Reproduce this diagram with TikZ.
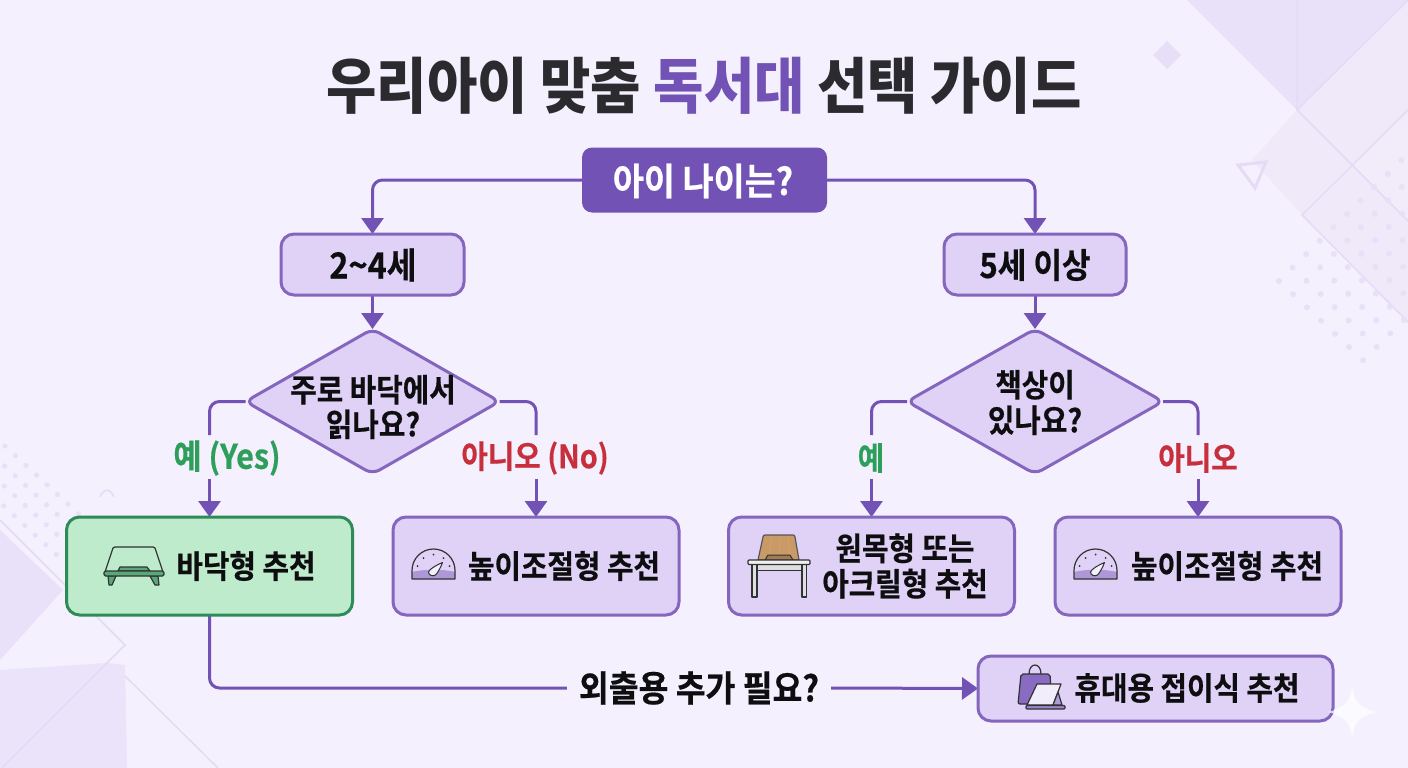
\documentclass[tikz,border=0pt]{standalone}
\usepackage{fontspec}
\setmainfont{Noto Sans CJK KR}[BoldFont={Noto Sans CJK KR Bold},BoldFeatures={FakeStretch=0.9,FakeBold=0.5}]
\newfontfamily\heavy{Noto Sans CJK KR Black}[FakeStretch=0.9]
\usetikzlibrary{arrows.meta,shapes.geometric,calc}
\definecolor{bgc}{HTML}{F4F0FD}
\definecolor{artA}{HTML}{E9E1F9}
\definecolor{artB}{HTML}{F0E9F9}
\definecolor{artL}{HTML}{E4DBF6}
\definecolor{dotc}{HTML}{E8E0F8}
\definecolor{purp}{HTML}{7352B6}
\definecolor{edgec}{HTML}{8466BE}
\definecolor{boxf}{HTML}{DFD2F6}
\definecolor{grnf}{HTML}{BEEBCB}
\definecolor{grne}{HTML}{2E8B57}
\definecolor{grnt}{HTML}{2E9E5B}
\definecolor{redt}{HTML}{C62F3B}
\definecolor{inkc}{HTML}{0E0E10}
\definecolor{titlec}{HTML}{2B2B2F}
\definecolor{wood}{HTML}{C99A66}
\pgfdeclarelayer{back}
\pgfdeclarelayer{conn}
\pgfsetlayers{back,conn,main}
\tikzset{
  box/.style={draw=edgec,fill=boxf,line width=3pt,rounded corners=13pt,inner sep=0pt,outer sep=0pt},
  greenbox/.style={box,draw=grne,fill=grnf},
  rootbox/.style={fill=purp,rounded corners=10pt,inner sep=0pt,outer sep=0pt},
  decision/.style={shape=diamond,draw=edgec,fill=boxf,line width=3pt,rounded corners=8pt,inner sep=0pt,outer sep=0pt,aspect=1.78},
  txt/.style={font=\bfseries\fontsize{32}{34.5}\selectfont,text=inkc,align=center,inner sep=0pt},
  lbl/.style={font=\bfseries\fontsize{32}{34}\selectfont,inner sep=0pt},
  flow/.style={draw=purp,line width=3pt,rounded corners=10pt},
  arr/.style={flow,-{Triangle[length=16pt,width=22pt]}},
  art/.style={draw=artL,line width=1.5pt},
  ico/.style={draw=inkc!85,line width=1.2pt,line join=round},
}
\begin{document}
\begin{tikzpicture}[x=1pt,y=-1pt]
\useasboundingbox (0,0) rectangle (1408,768);
\begin{pgfonlayer}{back}
\fill[bgc] (0,0) rectangle (1408,768);
\begin{scope}
\clip (0,0) rectangle (1408,768);
% top right art
\fill[artA] (1187,0) -- (1297,110) -- (1408,0) -- cycle;
\fill[artB] (1297,110) -- (1352,165) -- (1302,215) -- (1252,160) -- cycle;
\fill[artB] (1297,110) -- (1408,0) -- (1408,110) -- (1352,165) -- cycle;
\fill[artB] (1352,165) -- (1408,221) -- (1408,322) -- (1302,215) -- cycle;
\fill[artB!70!bgc] (1352,165) -- (1408,110) -- (1408,221) -- cycle;
\draw[art] (1297,0) -- (1297,110) -- (1408,221);
\draw[art] (1297,110) -- (1408,0);
\draw[art] (1408,110) -- (1302,215) -- (1408,322);
\draw[draw=artL,line width=3pt] (1238,165) -- (1266,162) -- (1255,188) -- cycle;
\fill[artL!85!bgc] (1167,41) -- (1181,55) -- (1167,69) -- (1153,55) -- cycle;
\foreach \i in {0,...,9}{\foreach \j in {0,...,6}{
  \pgfmathsetmacro{\px}{1279+13.6*\i+14*\j}
  \pgfmathsetmacro{\py}{281-13.4*\i+13.2*\j}
  \pgfmathtruncatemacro{\ok}{(\i+\j<10)?1:0}
  \ifnum\ok=1 \fill[dotc] (\px,\py) circle (3); \fi
}}
% bottom left art
\fill[artA] (0,530) -- (63,590) -- (0,660) -- cycle;
\fill[artA!85!bgc] (0,670) -- (107,663) -- (125,665) -- (127,768) -- (0,768) -- cycle;
\draw[art] (0,520) -- (125,645) -- (2,768);
\draw[art] (125,676) -- (218,768);
\draw[art] (100,497) .. controls (104,488) and (110,488) .. (114,497);
\foreach \i in {0,...,7}{\foreach \j in {0,...,3}{
  \pgfmathsetmacro{\px}{5+10.5*\i-0.4*\j}
  \pgfmathsetmacro{\py}{446+9.7*\i+20*\j}
  \pgfmathtruncatemacro{\ok}{(\i<8-\j||\j==3)&&(\i<6||\j==0)?1:0}
  \ifnum\ok=1 \fill[dotc] (\px,\py) circle (2.6); \fi
}}
\end{scope}
\end{pgfonlayer}

% title
\node[font=\heavy\fontsize{60.8}{66}\selectfont,text=titlec,inner sep=0pt] (title) at (704,86) {우리아이 맞춤 \textcolor{purp}{독서대} 선택 가이드};

% nodes
\node[rootbox,minimum width=245pt,minimum height=65pt] (root) at (704.5,180) {};
\node[txt,font=\bfseries\fontsize{37.5}{40}\selectfont,text=white] (roott) at (703,181) {아이 나이는?};
\node[box,minimum width=183pt,minimum height=61pt] (a1) at (372.5,264.5) {};
\node[txt,font=\bfseries\fontsize{36}{40}\selectfont] (a1t) at (373,265) {2\char"7E 4세};
\node[box,minimum width=182pt,minimum height=61pt] (a2) at (1035,264.5) {};
\node[txt,font=\bfseries\fontsize{34.5}{40}\selectfont] (a2t) at (1035,265) {5세 이상};
\node[decision,minimum width=254pt,minimum height=145pt] (d1) at (372.5,401.5) {};
\node[txt] (d1t) at (373,407) {주로 바닥에서\\읽나요?};
\node[decision,minimum width=256pt,minimum height=145pt] (d2) at (1035,401.5) {};
\node[txt] (d2t) at (1035,402.5) {책상이\\[1pt]있나요?};
\node[greenbox,minimum width=286pt,minimum height=98pt] (r1) at (209.5,566) {};
\node[box,minimum width=286pt,minimum height=98pt] (r2) at (536,566) {};
\node[box,minimum width=286pt,minimum height=98pt] (r3) at (871.5,566) {};
\node[box,minimum width=286pt,minimum height=98pt] (r4) at (1198,566) {};
\node[box,minimum width=355pt,minimum height=65pt] (r5) at (1155.5,688.5) {};
\node[txt] (r1t) at (246,566) {바닥형 추천};
\node[txt] (r2t) at (564,566) {높이조절형 추천};
\node[txt,align=center] (r3t) at (905,566) {원목형 또는\\[1pt]아크릴형 추천};
\node[txt] (r4t) at (1227,566) {높이조절형 추천};
\node[txt] (r5t) at (1187,688) {휴대용 접이식 추천};

% branch labels
\node[lbl,font=\bfseries\fontsize{34}{36}\selectfont,text=grnt] (y1) at (227,458) {예 (Yes)};
\node[lbl,text=redt] (n1) at (535,458) {아니오 (No)};
\node[lbl,text=grnt] (y2) at (871,458) {예};
\node[lbl,text=redt] (n2) at (1198,458) {아니오};
\node[txt,font=\bfseries\fontsize{36}{40}\selectfont,inner xsep=12pt] (q) at (699,688) {외출용 추가 필요?};

% breakpoints of the branch lines
\coordinate (b1a) at (r1.north |- 0,435); \coordinate (b1b) at (r1.north |- 0,479);
\coordinate (b2a) at (r2.north |- 0,435); \coordinate (b2b) at (r2.north |- 0,479);
\coordinate (b3a) at (r3.north |- 0,435); \coordinate (b3b) at (r3.north |- 0,479);
\coordinate (b4a) at (r4.north |- 0,435); \coordinate (b4b) at (r4.north |- 0,479);

\begin{pgfonlayer}{conn}
\draw[arr] (root.west) -| (a1.north);
\draw[arr] (root.east) -| (a2.north);
\draw[arr] (a1.south) -- (d1.north);
\draw[arr] (a2.south) -- (d2.north);
\draw[flow] (d1.west) -| (b1a);
\draw[arr] (b1b) -- (r1.north);
\draw[flow] (d1.east) -| (b2a);
\draw[arr] (b2b) -- (r2.north);
\draw[flow] (d2.west) -| (b3a);
\draw[arr] (b3b) -- (r3.north);
\draw[flow] (d2.east) -| (b4a);
\draw[arr] (b4b) -- (r4.north);
\draw[flow] (r1.south) |- (q.west);
\draw[arr] (q.east) -- (r5.west);
\end{pgfonlayer}

% floor-stand icon
\begin{scope}
\draw[ico] (105,572) -- (113,548) .. controls (113.5,547) and (114,547) .. (115,547) -- (153,547) .. controls (154,547) and (154.5,547) .. (155,548) -- (163,572);
\fill[ico,fill=grne!70!grnf] (118,571) -- (120,567) -- (147,567) -- (150,571) -- cycle;
\fill[ico,fill=grne!70!grnf] (108,576) -- (116,576) -- (112,585) -- (109,585) -- cycle;
\fill[ico,fill=grne!70!grnf] (150,576) -- (158,576) -- (159,585) -- (155,585) -- cycle;
\fill[ico,fill=grne!70!grnf,rounded corners=1.5pt] (104,571) rectangle (164,576);
\end{scope}

% gauge icons
\foreach \gx in {433.5,1095.5}{
\begin{scope}[shift={(\gx,0)}]
\fill[edgec!55!boxf] (-21.5,572) .. controls (-10,569) and (10,569) .. (21.5,572) -- (21.5,579) -- (-21.5,579) -- cycle;
\draw[ico] (-21.5,579) -- (-21.5,570.5) arc[start angle=180,end angle=360,radius=21.5] -- (21.5,579) -- cycle;
\foreach \tx/\ty in {-16/566,-10/558,0/554.5,10/558,16/566}{\fill[inkc!85] (\tx,\ty) circle (1);}
\fill[ico,fill=white!65!boxf,line width=1pt] (-5,572) .. controls (-4,569) and (3,565) .. (9,562.5) .. controls (7,568) and (4,573) .. (2,575) .. controls (-1,577) and (-5,575) .. (-5,572) -- cycle;
\end{scope}}

% desk icon
\fill[ico,fill=wood,draw=inkc!70] (758,560) -- (763,537) .. controls (763.5,535.5) and (764,535) .. (765,535) -- (793,535) .. controls (794,535) and (794.5,535.5) .. (795,537) -- (799,560) -- cycle;
\draw[draw=brown!70,line width=.5pt] (772,537) -- (769,557) (780,537) -- (779,555) (788,537) -- (790,557);
\fill[ico,fill=wood!80!black,line width=1pt] (765,560) -- (768,555) -- (790,555) -- (793,560) -- cycle;
\fill[ico,fill=gray!25,line width=1pt] (756,564) rectangle (802,570);
\fill[ico,fill=gray!25] (752,564) rectangle (757,597);
\fill[ico,fill=gray!25] (802,564) rectangle (806.5,597);
\fill[ico,fill=gray!12,rounded corners=1pt] (748,560) rectangle (810,564.5);

% bag + tablet icon
\draw[ico] (1029,674) .. controls (1029,662) and (1041,662) .. (1041,674);
\fill[ico,fill=edgec!95!boxf,rounded corners=2pt] (1021,674) -- (1050,674) -- (1052,704) -- (1018,704) -- cycle;
\fill[ico,fill=white!60!boxf] (1037,684) -- (1061,684) -- (1053,705) -- (1027,705) -- cycle;
\fill[ico,fill=edgec!50!boxf] (1058,692) -- (1062,705) -- (1053,705) -- cycle;
\fill[ico,fill=edgec!70!boxf,rounded corners=1pt] (1026,705.5) rectangle (1065,709);

% sparkle
\fill[white,opacity=.7] (1352,686) .. controls (1354,702) and (1360,708) .. (1376,712) .. controls (1360,716) and (1354,722) .. (1352,738) .. controls (1350,722) and (1344,716) .. (1328,712) .. controls (1344,708) and (1350,702) .. (1352,686) -- cycle;
\end{tikzpicture}
\end{document}
